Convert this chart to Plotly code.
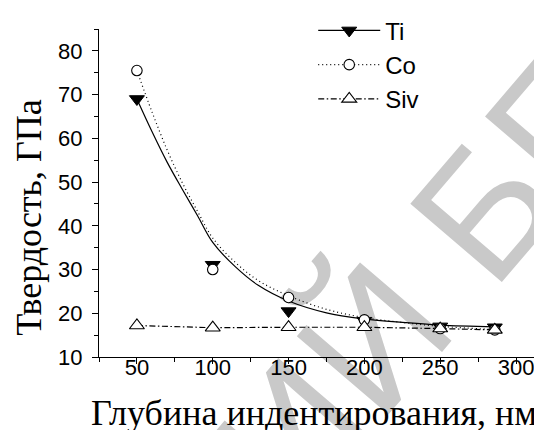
import plotly.graph_objects as go

# ---- data ----
depth = [50, 100, 150, 200, 250, 286]
ti = [69.0, 31.1, 20.5, 18.3, 17.0, 16.8]
co = [75.5, 30.0, 23.6, 18.5, 16.5, 16.2]
siv = [17.2, 16.7, 16.8, 16.8, 16.5, 16.2]

# fitted curves
fit_depth = [50, 60, 70, 80, 90, 100, 115, 130, 150, 175, 200, 225, 250, 286]
ti_fit = [69.0, 61.5, 54.5, 48.3, 42.3, 36.2, 30.6, 26.4, 22.8, 20.1, 18.7, 17.9, 17.3, 16.9]
co_fit = [75.5, 66.0, 57.3, 49.8, 43.3, 37.2, 31.6, 27.5, 24.0, 20.9, 19.0, 17.9, 17.0, 16.3]

series_names = ["Ti", "Co", "Siv"]
x_title = "Глубина индентирования, нм"
y_title = "Твердость, ГПа"
watermark = "РИЙ БГ"

x_ticks = [50, 100, 150, 200, 250, 300]
y_ticks = [10, 20, 30, 40, 50, 60, 70, 80]

DOT = "1px,3px"
DASHDOT = "6px,2.5px,1.5px,2.5px"
LW = 1.2

fig = go.Figure()

# fit lines
fig.add_trace(go.Scatter(x=fit_depth, y=ti_fit, mode="lines", line=dict(color="black", width=LW, shape="spline"),
                         showlegend=False, hoverinfo="skip"))
fig.add_trace(go.Scatter(x=fit_depth, y=co_fit, mode="lines", line=dict(color="black", width=LW, dash=DOT, shape="spline"),
                         showlegend=False, hoverinfo="skip"))
fig.add_trace(go.Scatter(x=depth, y=siv, mode="lines", line=dict(color="black", width=LW, dash=DASHDOT),
                         showlegend=False, hoverinfo="skip"))

# markers
m_ti = dict(symbol="triangle-down", size=13, color="black", line=dict(color="black", width=1))
m_co = dict(symbol="circle", size=10.5, color="white", line=dict(color="black", width=1.1))
m_siv = dict(symbol="triangle-up", size=13, color="white", line=dict(color="black", width=1.1))
fig.add_trace(go.Scatter(x=depth, y=ti, mode="markers", marker=m_ti, showlegend=False))
fig.add_trace(go.Scatter(x=depth, y=co, mode="markers", marker=m_co, showlegend=False))
fig.add_trace(go.Scatter(x=depth, y=siv, mode="markers", marker=m_siv, showlegend=False))

# legend entries
fig.add_trace(go.Scatter(x=[None], y=[None], mode="lines+markers", name=series_names[0],
                         line=dict(color="black", width=LW), marker=m_ti))
fig.add_trace(go.Scatter(x=[None], y=[None], mode="lines+markers", name=series_names[1],
                         line=dict(color="black", width=LW, dash=DOT), marker=m_co))
fig.add_trace(go.Scatter(x=[None], y=[None], mode="lines+markers", name=series_names[2],
                         line=dict(color="black", width=LW, dash=DASHDOT), marker=m_siv))

tickfont = dict(family="Liberation Sans, Arial, sans-serif", size=22, color="black")
axis_common = dict(showline=True, linecolor="black", linewidth=1.3, ticks="outside", ticklen=6,
                   tickwidth=1.3, tickcolor="black", showgrid=False, zeroline=False, tickfont=tickfont,
                   mirror=False)

fig.update_xaxes(range=[25, 322.4], tickvals=x_ticks, ticklabelstandoff=-16, **axis_common,
                 minor=dict(ticks="outside", ticklen=3.5, tickwidth=1.2, tickcolor="black", dtick=25, tick0=25))
fig.update_yaxes(range=[10, 85], tickvals=y_ticks, ticklabelstandoff=5, **axis_common,
                 minor=dict(ticks="outside", ticklen=3.5, tickwidth=1.2, tickcolor="black", dtick=5, tick0=5))

serif = "Liberation Serif, Times New Roman, serif"
fig.add_annotation(text=x_title, xref="paper", yref="paper", x=0.477, y=-0.170, showarrow=False,
                   xanchor="center", yanchor="middle", font=dict(family=serif, size=36, color="black"))
fig.add_annotation(text=y_title, xref="paper", yref="paper", x=-0.154, y=0.426, showarrow=False,
                   textangle=-90, xanchor="center", yanchor="middle", font=dict(family=serif, size=36, color="black"))

# watermark (under the data)
cx, cy, dx, dy = 0.5935, 0.108, 0.2215, 0.3555
fig.add_shape(type="line", xref="paper", yref="paper", x0=cx - dx, y0=cy - dy, x1=cx + dx, y1=cy + dy,
              line=dict(color="rgba(0,0,0,0)", width=0), layer="below",
              label=dict(text=watermark, textposition="middle", yanchor="middle",
                         font=dict(family="Liberation Sans, Arial, sans-serif", size=175, color="#c9c9c9")))

fig.update_layout(
    width=542, height=430,
    margin=dict(l=90.6, r=0, t=14, b=80.7),
    paper_bgcolor="white", plot_bgcolor="rgba(0,0,0,0)",
    showlegend=True,
    legend=dict(x=0.475, y=1.063, xanchor="left", yanchor="top", bgcolor="rgba(0,0,0,0)",
                font=dict(family="Liberation Sans, Arial, sans-serif", size=24, color="black"),
                itemwidth=62, tracegroupgap=0),
)

fig.write_html("out.html")
